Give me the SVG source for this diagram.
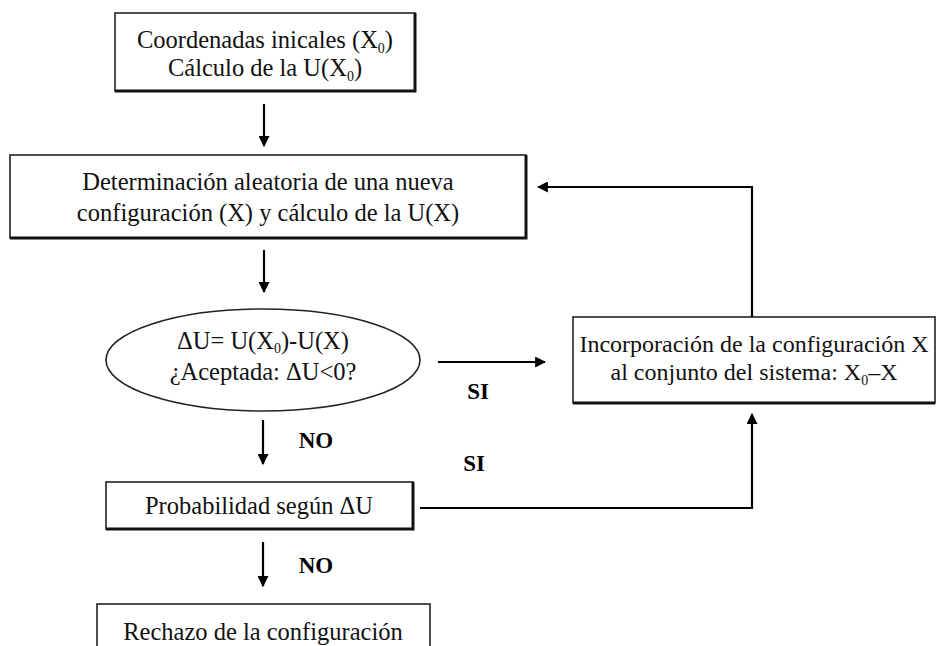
<svg xmlns="http://www.w3.org/2000/svg" width="945" height="646" viewBox="0 0 945 646">
<style>
.box{fill:#fff;stroke:#222;stroke-width:1.6}
.sh{fill:none;stroke:#111;stroke-width:3}
.t{font-family:"Liberation Serif","Times New Roman",serif;font-size:24.5px;fill:#111;text-anchor:middle}
.lb{font-family:"Liberation Serif","Times New Roman",serif;font-size:23px;font-weight:bold;fill:#000;text-anchor:middle}
.c{fill:none;stroke:#000;stroke-width:2.2}
.sub{font-size:14px}
</style>
<defs>
<marker id="ah" viewBox="0 0 10 10" refX="9" refY="5" markerWidth="5" markerHeight="5" orient="auto" markerUnits="strokeWidth">
<path d="M0,0 L10,5 L0,10 z" fill="#000"/>
</marker>
</defs>
<rect width="945" height="646" fill="#fff"/>
<g id="n1">
<rect class="box" x="115" y="13" width="300" height="78"/>
<path class="sh" d="M115,91 H415 V13"/>
<text class="t" x="265" y="48">Coordenadas inicales (X<tspan class="sub" dy="5">0</tspan><tspan dy="-5">)</tspan></text>
<text class="t" x="265" y="76">Cálculo de la U(X<tspan class="sub" dy="5">0</tspan><tspan dy="-5">)</tspan></text>
</g>
<g id="n2">
<rect class="box" x="10" y="155" width="516" height="83"/>
<path class="sh" d="M10,238 H526 V155"/>
<text class="t" x="268" y="190">Determinación aleatoria de una nueva</text>
<text class="t" x="268" y="221">configuración (X) y cálculo de la U(X)</text>
</g>
<g id="n3">
<ellipse cx="263" cy="360" rx="157" ry="51" fill="#fff" stroke="#222" stroke-width="1.6"/>
<text class="t" x="263" y="349">ΔU= U(X<tspan class="sub" dy="4">0</tspan><tspan dy="-4">)-U(X)</tspan></text>
<text class="t" x="263" y="380">¿Aceptada: ΔU&lt;0?</text>
</g>
<g id="n4">
<rect class="box" x="573" y="317" width="362" height="86"/>
<path class="sh" d="M573,403 H935"/>
<text class="t" x="754" y="352" style="font-size:24px">Incorporación de la configuración X</text>
<text class="t" x="754" y="380" style="font-size:24px">al conjunto del sistema: X<tspan class="sub" dy="5">0</tspan><tspan dy="-5">–X</tspan></text>
</g>
<g id="n5">
<rect class="box" x="106" y="482" width="307" height="47"/>
<path class="sh" d="M106,529 H413 V482"/>
<text class="t" x="259" y="514">Probabilidad según ΔU</text>
</g>
<g id="n6">
<rect class="box" x="97" y="604" width="333" height="60"/>
<text class="t" x="263" y="640">Rechazo de la configuración</text>
</g>
<g id="connectors">
<line class="c" x1="264" y1="104" x2="264" y2="146" marker-end="url(#ah)"/>
<line class="c" x1="264" y1="250" x2="264" y2="292" marker-end="url(#ah)"/>
<line class="c" x1="438" y1="362" x2="545" y2="362" marker-end="url(#ah)"/>
<path class="c" d="M752,317 V187 H538" marker-end="url(#ah)"/>
<line class="c" x1="263" y1="420" x2="263" y2="464" marker-end="url(#ah)"/>
<path class="c" d="M420,508 H752 V414" marker-end="url(#ah)"/>
<line class="c" x1="263" y1="542" x2="263" y2="586" marker-end="url(#ah)"/>
<text class="lb" x="316" y="448">NO</text>
<text class="lb" x="478" y="399">SI</text>
<text class="lb" x="474" y="471">SI</text>
<text class="lb" x="316" y="573">NO</text>
</g>
</svg>
